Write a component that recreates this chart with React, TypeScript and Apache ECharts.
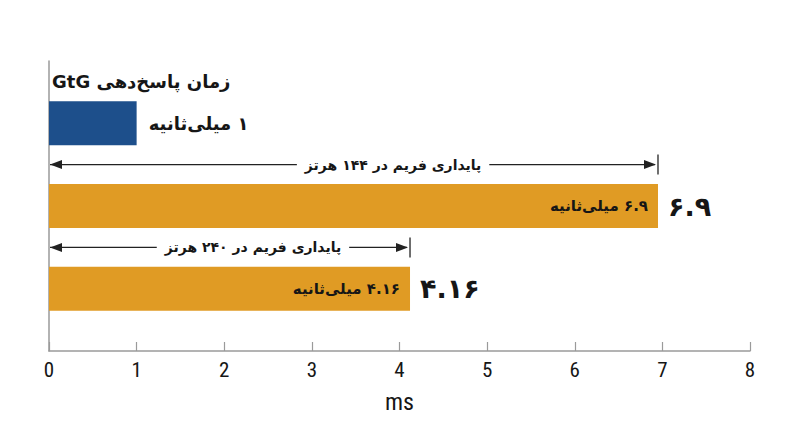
import React, { useEffect, useRef } from "react";
import * as echarts from "echarts";

// ---- data ----
const rowNames = ["title", "gtg", "arrow144", "bar144", "arrow240", "bar240", "gap"];
const gtgTitle = "زمان پاسخ‌دهی GtG";
const gtgValue = 1;
const gtgLabel = "۱ میلی‌ثانیه";
const frameRates = ["۱۴۴", "۲۴۰"];
const frameValues = [6.95, 4.12];
const frameValueLabels = ["۶.۹", "۴.۱۶"];
const xTicks = [0, 1, 2, 3, 4, 5, 6, 7, 8];
const xName = "ms";

const BLUE = "#1d4f8b";
const ORANGE = "#e09b24";
const INK = "#161616";
const FA_FONT = "'DejaVu Sans', 'Noto Sans', sans-serif";
const AXIS_FONT = "'Liberation Sans Narrow', 'Roboto Condensed', Roboto, sans-serif";

const rtl = (s: string) => "\u202B" + s + "\u202C";

const gtgRow = 1;
const barRow = (i: number) => 3 + 2 * i;
const arrowRow = (i: number) => 2 + 2 * i;

export default function App() {
  const ref = useRef<HTMLDivElement>(null);

  useEffect(() => {
    document.body.style.margin = "0";
    if (!ref.current) return;
    const chart = echarts.init(ref.current, undefined, { renderer: "svg" });

    const barData: any[] = rowNames.map(() => "-");
    barData[gtgRow] = {
      value: gtgValue,
      itemStyle: { color: BLUE },
      label: {
        show: true,
        position: "right",
        distance: 12,
        formatter: rtl(gtgLabel),
        fontFamily: FA_FONT,
        fontWeight: "bold",
        fontSize: 18,
        color: INK,
      },
    };
    frameValues.forEach((v, i) => {
      barData[barRow(i)] = {
        value: v,
        itemStyle: { color: ORANGE },
        label: {
          show: true,
          position: "insideRight",
          distance: 10,
          formatter: rtl(`${frameValueLabels[i]} میلی‌ثانیه`),
          fontFamily: FA_FONT,
          fontWeight: "bold",
          fontSize: 15,
          color: INK,
        },
      };
    });

    const arrowData = frameValues.map((v, i) => [v, arrowRow(i)]);
    const bigLabelData = frameValues.map((v, i) => [v, barRow(i)]);

    chart.setOption({
      animation: false,
      grid: { left: 49, right: 50, top: 61, bottom: 96, containLabel: false },
      xAxis: {
        type: "value",
        min: xTicks[0],
        max: xTicks[xTicks.length - 1],
        interval: 1,
        name: xName,
        nameLocation: "middle",
        nameGap: 39,
        nameTextStyle: { fontSize: 24, color: INK, fontFamily: AXIS_FONT },
        axisLine: { show: true, lineStyle: { color: "#9a9a9a", width: 1.5 } },
        axisTick: { show: true, inside: true, length: 9, lineStyle: { color: "#9a9a9a", width: 1.2 } },
        axisLabel: {
          fontSize: 21,
          color: INK,
          margin: 8,
          fontFamily: AXIS_FONT,
        },
        splitLine: { show: false },
      },
      yAxis: {
        type: "category",
        inverse: true,
        data: rowNames,
        axisLine: { show: true, lineStyle: { color: "#9a9a9a", width: 1.5 } },
        axisTick: { show: false },
        axisLabel: { show: false },
      },
      series: [
        {
          type: "bar",
          data: barData,
          barWidth: 44,
          silent: true,
        },
        {
          type: "custom",
          data: arrowData,
          encode: { x: 0, y: 1 },
          renderItem: (params: any, api: any) => {
            const v = api.value(0);
            const row = api.value(1);
            const p0 = api.coord([0, row]);
            const p1 = api.coord([v, row]);
            const y = p0[1];
            const x0 = p0[0] + 1;
            const x1 = p1[0];
            const mid = api.coord([v * 0.565, row])[0];
            const label = rtl(`پایداری فریم در ${frameRates[params.dataIndex]} هرتز`);
            return {
              type: "group",
              children: [
                { type: "line", shape: { x1: x0, y1: y, x2: x1 - 3, y2: y }, style: { stroke: "#222", lineWidth: 1.3 } },
                { type: "polygon", shape: { points: [[x0, y], [x0 + 12, y - 4.5], [x0 + 12, y + 4.5]] }, style: { fill: "#222" } },
                { type: "polygon", shape: { points: [[x1 - 2, y], [x1 - 14, y - 4.5], [x1 - 14, y + 4.5]] }, style: { fill: "#222" } },
                { type: "line", shape: { x1: x1, y1: y - 10, x2: x1, y2: y + 10 }, style: { stroke: "#222", lineWidth: 1.3 } },
                {
                  type: "text",
                  x: mid,
                  y: y,
                  style: {
                    text: label,
                    align: "center",
                    verticalAlign: "middle",
                    fill: INK,
                    fontFamily: FA_FONT,
                    fontWeight: "bold",
                    fontSize: 14,
                    backgroundColor: "#ffffff",
                    padding: [2, 8],
                  },
                },
              ],
            };
          },
          silent: true,
        },
        {
          type: "custom",
          data: bigLabelData,
          encode: { x: 0, y: 1 },
          renderItem: (params: any, api: any) => {
            const p = api.coord([api.value(0), api.value(1)]);
            return {
              type: "text",
              x: p[0] + 10,
              y: p[1],
              style: {
                text: rtl(frameValueLabels[params.dataIndex]),
                align: "left",
                verticalAlign: "middle",
                fill: INK,
                fontFamily: FA_FONT,
                fontWeight: "bold",
                fontSize: 27,
              },
            };
          },
          silent: true,
        },
        {
          type: "custom",
          data: [[0, 0]],
          encode: { x: 0, y: 1 },
          renderItem: (params: any, api: any) => {
            const p = api.coord([api.value(0), api.value(1)]);
            return {
              type: "text",
              x: p[0] + 3,
              y: p[1],
              style: {
                text: rtl(gtgTitle),
                align: "left",
                verticalAlign: "middle",
                fill: INK,
                fontFamily: FA_FONT,
                fontWeight: "bold",
                fontSize: 18,
              },
            };
          },
          silent: true,
        },
      ],
    });

    return () => chart.dispose();
  }, []);

  return <div ref={ref} style={{ width: 800, height: 447 }} />;
}
